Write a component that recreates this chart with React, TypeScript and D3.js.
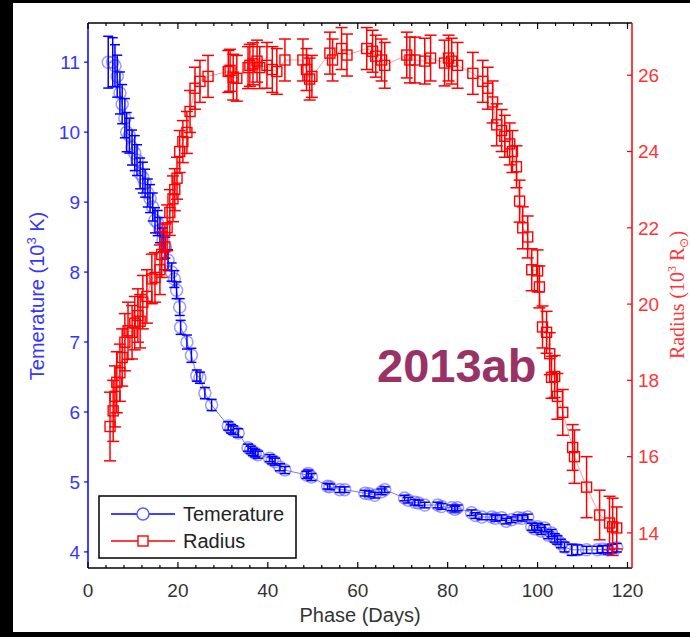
import React from "react";
import * as d3 from "d3";

// ---- data ----
const tempDays = [4.5, 5.5, 6.0, 6.5, 7.1, 7.6, 8.2, 8.6, 9.2, 9.8, 10.4, 10.9, 11.6, 12.2, 12.7, 13.3, 13.8, 14.4, 14.9, 15.5, 16.0, 16.7, 17.2, 17.8, 18.6, 19.2, 19.7, 20.4, 20.6, 22.0, 23.0, 24.2, 24.9, 26.0, 27.5, 31.2, 31.8, 32.3, 33.4, 35.6, 36.2, 36.7, 37.2, 37.8, 40.4, 41.0, 41.6, 42.7, 43.8, 48.6, 49.0, 49.7, 53.3, 53.8, 56.0, 57.1, 61.6, 62.5, 63.8, 65.3, 66.0, 70.4, 71.2, 72.7, 73.5, 74.9, 77.8, 78.6, 80.9, 81.6, 82.2, 85.3, 86.2, 87.6, 89.8, 90.6, 92.0, 93.0, 94.2, 95.6, 96.6, 97.8, 98.7, 99.3, 100.0, 100.8, 101.6, 102.4, 103.1, 103.8, 104.4, 105.2, 106.0, 107.6, 108.9, 110.9, 113.3, 114.5, 115.6, 116.6, 117.6];
const temps = [11.0, 11.0, 10.95, 10.8, 10.56, 10.4, 10.2, 10.0, 9.95, 9.78, 9.7, 9.6, 9.41, 9.35, 9.27, 9.13, 9.05, 8.93, 8.74, 8.7, 8.6, 8.46, 8.35, 8.17, 8.0, 7.9, 7.74, 7.5, 7.21, 7.0, 6.81, 6.52, 6.49, 6.27, 6.1, 5.8, 5.76, 5.74, 5.7, 5.49, 5.46, 5.43, 5.41, 5.39, 5.34, 5.31, 5.29, 5.21, 5.17, 5.1, 5.12, 5.07, 4.94, 4.93, 4.89, 4.89, 4.84, 4.83, 4.81, 4.86, 4.89, 4.77, 4.74, 4.71, 4.7, 4.67, 4.67, 4.65, 4.63, 4.61, 4.63, 4.56, 4.52, 4.5, 4.5, 4.48, 4.49, 4.44, 4.46, 4.49, 4.48, 4.5, 4.36, 4.33, 4.36, 4.3, 4.34, 4.24, 4.27, 4.2, 4.17, 4.12, 4.07, 4.03, 4.03, 4.03, 4.03, 4.04, 4.03, 4.05, 4.06];
const tempErr = [0.37, 0.35, 0.3, 0.3, 0.3, 0.28, 0.28, 0.28, 0.25, 0.25, 0.25, 0.22, 0.22, 0.22, 0.2, 0.2, 0.2, 0.2, 0.18, 0.18, 0.18, 0.17, 0.15, 0.15, 0.13, 0.12, 0.12, 0.12, 0.1, 0.1, 0.1, 0.08, 0.08, 0.08, 0.08, 0.06, 0.06, 0.06, 0.06, 0.05, 0.05, 0.05, 0.05, 0.05, 0.05, 0.05, 0.05, 0.05, 0.05, 0.05, 0.05, 0.05, 0.04, 0.04, 0.04, 0.04, 0.04, 0.04, 0.04, 0.04, 0.04, 0.04, 0.04, 0.04, 0.04, 0.04, 0.04, 0.04, 0.04, 0.04, 0.04, 0.04, 0.04, 0.04, 0.04, 0.04, 0.04, 0.04, 0.04, 0.04, 0.04, 0.04, 0.05, 0.05, 0.05, 0.05, 0.05, 0.05, 0.05, 0.06, 0.06, 0.06, 0.07, 0.08, 0.07, 0.05, 0.05, 0.05, 0.06, 0.06, 0.06];

const radDays = [4.9, 5.6, 6.0, 6.4, 7.1, 7.6, 8.2, 8.9, 9.8, 10.4, 11.1, 11.6, 12.2, 13.1, 14.2, 14.9, 16.0, 16.4, 17.1, 17.6, 18.2, 18.9, 19.3, 19.8, 20.4, 21.1, 22.0, 22.7, 23.8, 24.9, 26.7, 31.2, 31.6, 32.3, 33.1, 35.6, 36.0, 36.7, 37.6, 38.2, 39.8, 41.0, 42.0, 43.8, 47.8, 48.6, 49.3, 49.8, 53.8, 54.4, 56.4, 57.6, 62.0, 63.3, 64.0, 65.3, 66.0, 70.9, 71.6, 72.7, 74.9, 76.2, 79.3, 80.2, 80.9, 82.2, 85.6, 87.8, 88.9, 90.0, 90.9, 92.0, 92.7, 93.8, 94.4, 95.3, 96.0, 96.7, 97.8, 98.7, 100.0, 100.4, 101.1, 102.0, 102.7, 103.1, 103.8, 104.4, 105.6, 107.8, 108.2, 110.9, 113.8, 116.0, 116.7, 117.6];
const radii = [16.79, 17.2, 17.58, 17.95, 18.2, 18.6, 19.0, 19.3, 19.26, 19.5, 19.7, 19.55, 20.05, 20.2, 20.66, 20.7, 20.9, 21.3, 21.5, 22.0, 22.4, 22.76, 23.0, 23.3, 24.0, 24.26, 24.5, 25.05, 25.66, 25.84, 25.97, 26.1, 26.13, 25.95, 25.92, 26.2, 26.26, 26.3, 26.37, 26.2, 26.26, 26.15, 26.1, 26.4, 26.4, 26.15, 25.9, 25.97, 26.58, 26.4, 26.7, 26.53, 26.7, 26.63, 26.5, 26.4, 26.26, 26.53, 26.4, 26.4, 26.37, 26.45, 26.32, 26.45, 26.37, 26.26, 26.05, 25.84, 25.66, 25.3, 24.7, 24.55, 24.4, 24.2, 24.0, 23.6, 22.7, 22.0, 21.76, 20.9, 20.87, 20.45, 19.4, 19.26, 18.7, 18.08, 18.1, 17.58, 17.16, 16.24, 16.0, 15.2, 14.47, 14.26, 14.16, 14.13];
const radErr = [0.9, 0.8, 0.8, 0.8, 0.75, 0.75, 0.75, 0.75, 0.7, 0.7, 0.7, 0.7, 0.7, 0.7, 0.65, 0.65, 0.65, 0.6, 0.6, 0.6, 0.6, 0.6, 0.55, 0.55, 0.55, 0.55, 0.55, 0.55, 0.55, 0.55, 0.55, 0.55, 0.55, 0.6, 0.6, 0.55, 0.55, 0.55, 0.55, 0.55, 0.6, 0.6, 0.6, 0.55, 0.55, 0.55, 0.55, 0.55, 0.55, 0.55, 0.55, 0.55, 0.55, 0.55, 0.55, 0.55, 0.6, 0.6, 0.6, 0.6, 0.6, 0.6, 0.6, 0.6, 0.6, 0.6, 0.55, 0.55, 0.55, 0.55, 0.55, 0.55, 0.55, 0.55, 0.55, 0.55, 0.55, 0.55, 0.55, 0.55, 0.55, 0.55, 0.55, 0.55, 0.55, 0.55, 0.55, 0.6, 0.6, 0.6, 0.7, 0.8, 0.65, 0.7, 0.75, 0.55];

const xTicks = [0, 20, 40, 60, 80, 100, 120];
const tempTicks = [4, 5, 6, 7, 8, 9, 10, 11];
const radTicks = [14, 16, 18, 20, 22, 24, 26];
const legendLabels = ["Temerature", "Radius"];
const annotation = "2013ab";

const W = 690, H = 637;
const L = 88, R = 632, T = 23, B = 568;

export default function App() {
  const x = d3.scaleLinear().domain([0, 121]).range([L, R]);
  const yT = d3.scaleLinear().domain([3.77, 11.56]).range([B, T]);
  const yR = d3.scaleLinear().domain([13.08, 27.37]).range([B, T]);
  const minor = d3.range(0, 121, 4);

  const tData = tempDays.map((d, i) => ({ d, v: temps[i], e: tempErr[i] }));
  const rData = radDays.map((d, i) => ({ d, v: radii[i], e: radErr[i] }));

  const tLine = d3.line<any>().x(p => x(p.d)).y(p => yT(p.v))(tData) || "";
  const rLine = d3.line<any>().x(p => x(p.d)).y(p => yR(p.v))(rData) || "";

  const sans = "'Liberation Sans', Arial, sans-serif";
  const serif = "'Liberation Serif', 'Times New Roman', serif";
  const blue = "#0000ff";
  const red = "#ff0000";
  const sq = 10;

  return (
    <svg width={W} height={H} style={{ position: "absolute", left: 0, top: 0, display: "block" }}>
      <rect x={0} y={0} width={W} height={H} fill="#000" />
      <rect x={13} y={3} width={W - 13} height={629} fill="#fff" />

      {/* connecting lines */}
      <path d={tLine} fill="none" stroke="#7a7aff" strokeWidth={1} />
      <path d={rLine} fill="none" stroke="#ff9a9a" strokeWidth={1} />

      {/* temperature */}
      <g>
        {tData.map((p, i) => (
          <circle key={"c" + i} cx={x(p.d)} cy={yT(p.v)} r={6} fill="none" stroke="#5a5aff" strokeOpacity={0.6} strokeWidth={1.5} />
        ))}
        {tData.map((p, i) => {
          const cx = x(p.d), y1 = yT(p.v - p.e), y2 = yT(p.v + p.e);
          return (
            <g key={"te" + i} stroke={blue} strokeWidth={1.5}>
              <line x1={cx} x2={cx} y1={y1} y2={y2} />
              <line x1={cx - 5} x2={cx + 5} y1={y1} y2={y1} />
              <line x1={cx - 5} x2={cx + 5} y1={y2} y2={y2} />
            </g>
          );
        })}
      </g>

      {/* radius */}
      <g>
        {rData.map((p, i) => {
          const cx = x(p.d), y1 = yR(p.v - p.e), y2 = yR(p.v + p.e);
          return (
            <g key={"re" + i} stroke={red} strokeWidth={1.5}>
              <line x1={cx} x2={cx} y1={y1} y2={y2} />
              <line x1={cx - 6} x2={cx + 6} y1={y1} y2={y1} />
              <line x1={cx - 6} x2={cx + 6} y1={y2} y2={y2} />
            </g>
          );
        })}
        {rData.map((p, i) => (
          <rect key={"s" + i} x={x(p.d) - sq / 2} y={yR(p.v) - sq / 2} width={sq} height={sq} fill="none" stroke={red} strokeWidth={1.4} />
        ))}
      </g>

      {/* axes */}
      <line x1={L} x2={R} y1={T} y2={T} stroke="#000" strokeWidth={1.5} />
      <line x1={L} x2={R} y1={B} y2={B} stroke="#000" strokeWidth={1.5} />
      <line x1={L} x2={L} y1={T} y2={B} stroke={blue} strokeWidth={1.5} />
      <line x1={R} x2={R} y1={T} y2={B} stroke={red} strokeWidth={1.5} />

      {minor.map((m, i) => (
        <g key={"mt" + i} stroke="#000" strokeWidth={1.2}>
          <line x1={x(m)} x2={x(m)} y1={B} y2={B - (m % 20 === 0 ? 6 : 3)} />
          <line x1={x(m)} x2={x(m)} y1={T} y2={T + (m % 20 === 0 ? 6 : 3)} />
        </g>
      ))}
      {xTicks.map((t, i) => (
        <text key={"xt" + i} x={x(t)} y={597} textAnchor="middle" fontFamily={sans} fontSize={19} fill="#333">{t}</text>
      ))}
      {tempTicks.map((t, i) => (
        <g key={"yt" + i}>
          <line x1={L} x2={L - 4} y1={yT(t)} y2={yT(t)} stroke={blue} strokeWidth={1.2} />
          <text x={80} y={yT(t)} dy="0.36em" textAnchor="end" fontFamily={sans} fontSize={19} fill="#3535ff">{t}</text>
        </g>
      ))}
      {radTicks.map((t, i) => (
        <g key={"rt" + i}>
          <line x1={R} x2={R - 5} y1={yR(t)} y2={yR(t)} stroke={red} strokeWidth={1.2} />
          <text x={638} y={yR(t)} dy="0.36em" textAnchor="start" fontFamily={sans} fontSize={19} fill="#ff3535">{t}</text>
        </g>
      ))}

      {/* axis labels */}
      <text x={360} y={622} textAnchor="middle" fontFamily={sans} fontSize={20} fill="#333">Phase (Days)</text>
      <text transform="translate(44,296) rotate(-90)" textAnchor="middle" fontFamily={sans} fontSize={20} fill="#3535ff">
        Temerature (10<tspan dy={-8} fontSize={13}>3</tspan><tspan dy={8}> K)</tspan>
      </text>
      <text transform="translate(684,295) rotate(-90)" textAnchor="middle" fontFamily={serif} fontSize={20} fill="#ff3535">
        Radius (10<tspan dy={-8} fontSize={12}>3</tspan><tspan dy={8}> R</tspan><tspan dy={4} fontSize={12}>⊙</tspan><tspan dy={-4}>)</tspan>
      </text>

      {/* annotation */}
      <text x={377} y={382} fontFamily={sans} fontWeight="bold" fontSize={47} fill="#993366">{annotation}</text>

      {/* legend */}
      <rect x={99} y={496} width={197} height={62} fill="#fff" stroke="#000" strokeWidth={1.5} />
      <line x1={111} x2={175} y1={514} y2={514} stroke={blue} strokeWidth={1.3} />
      <circle cx={143} cy={514} r={6} fill="#fff" stroke="#5a5aff" strokeWidth={1.5} />
      <text x={183} y={514} dy="0.36em" fontFamily={sans} fontSize={20} fill="#222">{legendLabels[0]}</text>
      <line x1={111} x2={175} y1={541} y2={541} stroke={red} strokeWidth={1.3} />
      <rect x={143 - 5} y={541 - 5} width={10} height={10} fill="#fff" stroke={red} strokeWidth={1.4} />
      <text x={183} y={541} dy="0.36em" fontFamily={sans} fontSize={20} fill="#222">{legendLabels[1]}</text>
    </svg>
  );
}
